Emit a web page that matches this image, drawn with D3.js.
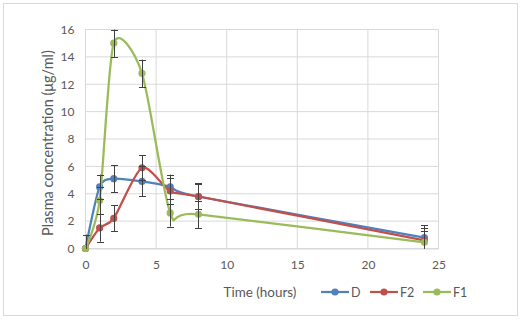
<!DOCTYPE html>
<html><head><meta charset="utf-8">
<script src="https://cdn.jsdelivr.net/npm/d3@7"></script>
<style>body{margin:0;background:#fff}svg{display:block;font-family:Lato,"Open Sans",sans-serif}</style>
</head><body>
<svg id="c" width="528" height="322"></svg>
<script>
const times = [0, 1, 2, 4, 6, 8, 24];
const seriesNames = ["D", "F2", "F1"];
const valuesD  = [0, 4.5, 5.1, 4.9, 4.5, 3.8, 0.8];
const valuesF2 = [0, 1.5, 2.2, 5.9, 4.2, 3.8, 0.6];
const valuesF1 = [0, 3.5, 15.0, 12.8, 2.6, 2.5, 0.45];
const errD  = [1.0, 0.9, 1.0, 1.1, 0.9, 0.9, 0.9];
const errF2 = [1.0, 1.0, 0.95, 0.9, 0.95, 0.95, 0.9];
const errF1 = [1.0, 1.0, 1.0, 1.0, 1.0, 1.0, 0.85];
const xTicks = [0, 5, 10, 15, 20, 25];
const yTicks = [0, 2, 4, 6, 8, 10, 12, 14, 16];
const colors = ["#4F81BD", "#C0504D", "#9BBB59"];

const series = [
  {name: seriesNames[0], v: valuesD, e: errD, c: colors[0]},
  {name: seriesNames[1], v: valuesF2, e: errF2, c: colors[1]},
  {name: seriesNames[2], v: valuesF1, e: errF1, c: colors[2]}
];

const svg = d3.select("#c");
svg.append("rect").attr("x", 3.5).attr("y", 3.5).attr("width", 514).attr("height", 312)
  .attr("fill", "#fff").attr("stroke", "#d9d9d9");

const x = d3.scaleLinear().domain([0, 25]).range([85.5, 438.5]);
const y = d3.scaleLinear().domain([0, 16]).range([248.5, 29.5]);
const txt = "#595959";

// gridlines
const g = svg.append("g");
g.selectAll(".hg").data(yTicks).join("line")
  .attr("x1", x(0)).attr("x2", x(25)).attr("y1", d => y(d)).attr("y2", d => y(d))
  .attr("stroke", "#d9d9d9").attr("stroke-width", 1);
g.selectAll(".vg").data(xTicks).join("line")
  .attr("x1", d => x(d)).attr("x2", d => x(d)).attr("y1", y(0)).attr("y2", y(16))
  .attr("stroke", "#d9d9d9").attr("stroke-width", 1);

// axes
const xa = svg.append("g").attr("transform", `translate(0,${y(0)})`)
  .call(d3.axisBottom(x).tickValues(xTicks).tickSize(0).tickPadding(12));
xa.select(".domain").attr("stroke", "#d9d9d9");
xa.selectAll("text").attr("fill", txt).attr("font-size", 12).attr("font-family", "Lato, sans-serif");
const ya = svg.append("g").attr("transform", `translate(${x(0)},0)`)
  .call(d3.axisLeft(y).tickValues(yTicks).tickSize(0).tickPadding(11));
ya.select(".domain").remove();
ya.selectAll("text").attr("fill", txt).attr("font-size", 12).attr("font-family", "Lato, sans-serif");

function fitText(sel, width) {
  const len = sel.node().getComputedTextLength();
  sel.attr("font-size", 12 * width / len);
}
// titles
const xt = svg.append("text").attr("x", 260).attr("y", 297).attr("text-anchor", "middle")
  .attr("fill", txt).attr("font-size", 12).text("Time (hours)");
fitText(xt, 73);
const yt = svg.append("text").attr("transform", `translate(53,143) rotate(-90)`).attr("text-anchor", "middle")
  .attr("fill", txt).attr("font-size", 12).text("Plasma concentration (μg/ml)");
fitText(yt, 186);

// lines
const line = d3.line().x(d => x(d[0])).y(d => y(d[1])).curve(d3.curveCardinal.tension(0.25));
series.forEach(s => {
  const pts = times.map((t, i) => [t, s.v[i]]);
  svg.append("path").attr("d", line(pts)).attr("fill", "none")
    .attr("stroke", s.c).attr("stroke-width", 2.25).attr("stroke-linecap", "round");
  svg.append("g").selectAll("circle").data(pts).join("circle")
    .attr("cx", d => x(d[0])).attr("cy", d => y(d[1])).attr("r", 3.6).attr("fill", s.c);
});
// error bars
series.forEach(s => {
  const eg = svg.append("g").attr("stroke", "#404040").attr("stroke-width", 1);
  times.forEach((t, i) => {
    const hi = s.v[i] + s.e[i], lo = Math.max(0, s.v[i] - s.e[i]);
    const cx = Math.round(x(t)) + 0.5;
    eg.append("line").attr("x1", cx).attr("x2", cx).attr("y1", y(hi)).attr("y2", y(lo));
    eg.append("line").attr("x1", cx - 3.5).attr("x2", cx + 3.5).attr("y1", Math.round(y(hi)) + 0.5).attr("y2", Math.round(y(hi)) + 0.5);
    if (s.v[i] - s.e[i] > 0)
      eg.append("line").attr("x1", cx - 3.5).attr("x2", cx + 3.5).attr("y1", Math.round(y(lo)) + 0.5).attr("y2", Math.round(y(lo)) + 0.5);
  });
});

// legend
const legX = [321, 370, 423];
series.forEach((s, i) => {
  const lg = svg.append("g").attr("transform", `translate(${legX[i]},292)`);
  lg.append("line").attr("x1", 0).attr("x2", 28).attr("y1", 0).attr("y2", 0)
    .attr("stroke", s.c).attr("stroke-width", 2.25);
  lg.append("circle").attr("cx", 14).attr("cy", 0).attr("r", 3.6).attr("fill", s.c);
  lg.append("text").attr("x", 30).attr("y", 4.5).attr("fill", txt).attr("font-size", 12.5).text(s.name);
});
</script>
</body></html>
